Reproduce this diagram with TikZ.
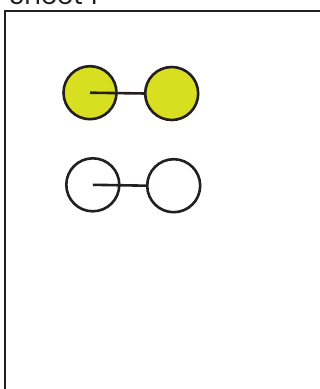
\documentclass[tikz,border=0pt]{standalone}
\usepackage{fontspec}
\setmainfont{Poppins}
\definecolor{lime}{RGB}{216,223,32}
\definecolor{ink}{RGB}{35,31,32}
\begin{document}
\begin{tikzpicture}[x=1pt,y=-1pt,
  ball/.style={circle,draw=ink,line width=2.6pt,minimum size=53pt,inner sep=0pt,outer sep=0pt},
  filled/.style={ball,fill=lime},
  link/.style={draw=ink,line width=2.6pt}]
\useasboundingbox (0,0) rectangle (320,389);
\clip (0,0) rectangle (320,389);
\fill[white] (0,0) rectangle (320,389);
\node[anchor=base west,inner sep=0pt,font=\fontsize{26}{30}\selectfont,text=ink] (title) at (9,4) {Sheet 1};
\draw[ink,line width=2.6pt] (5,400) -- (5,11) -- (330,11);
\node[filled] (a) at (90,92.7) {};
\node[filled] (b) at (171.7,93.5) {};
\draw[link] (a.center) -- (b.west);
\node[ball] (c) at (92.8,184.8) {};
\node[ball] (d) at (173.7,185.7) {};
\draw[link] (c.center) -- (d.west);
\end{tikzpicture}
\end{document}
